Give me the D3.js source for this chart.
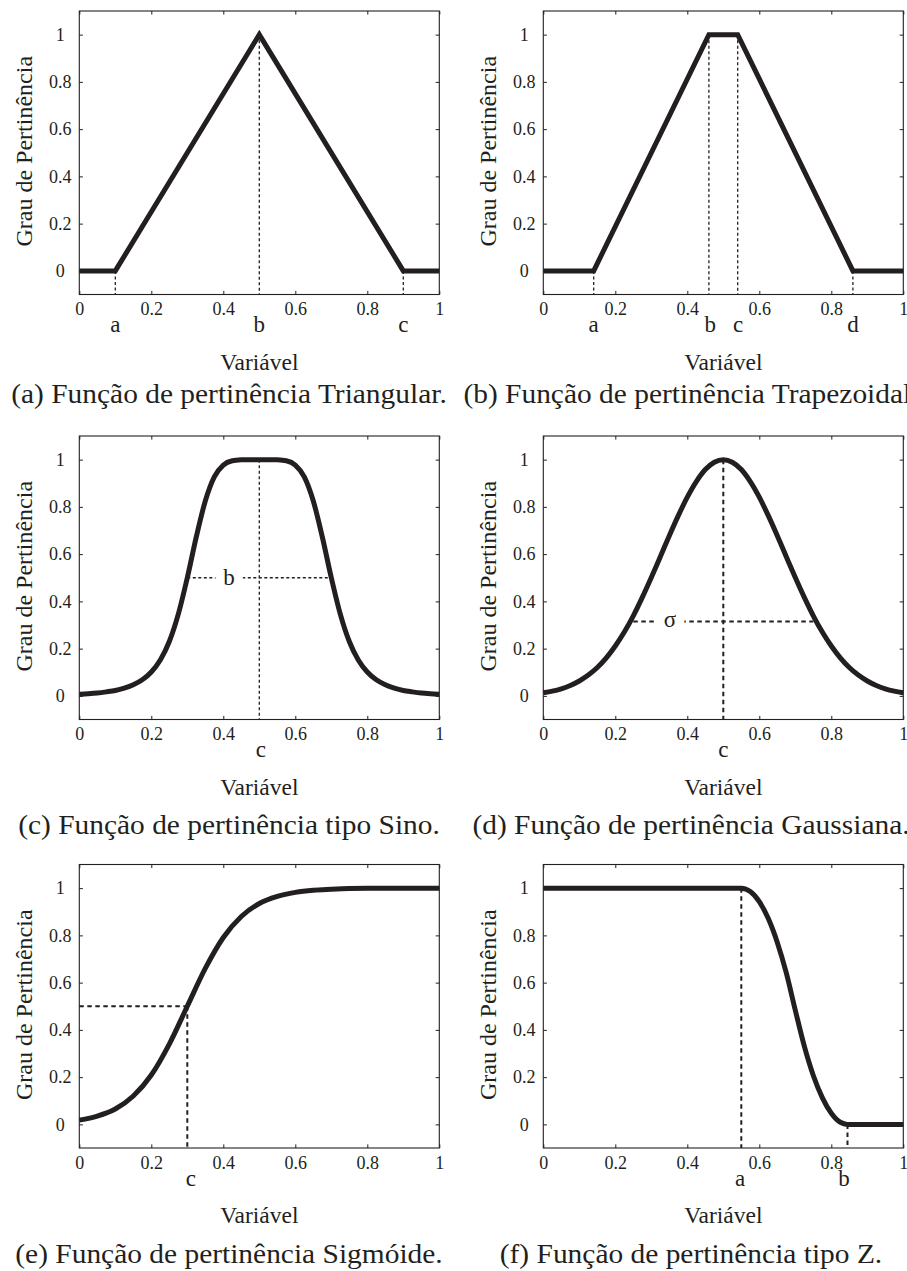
<!DOCTYPE html>
<html>
<head>
<meta charset="utf-8">
<script src="https://cdn.jsdelivr.net/npm/d3@7"></script>
<style>
  body { margin: 0; background: #fff; }
  svg { display: block; }
  text { font-family: "Liberation Serif", "Times New Roman", serif; fill: #231f20; }
</style>
</head>
<body>
<div id="chart"></div>
<script>
// axis ticks
var xTicks = [0, 0.2, 0.4, 0.6, 0.8, 1];
var yTicks = [0, 0.2, 0.4, 0.6, 0.8, 1];
var tickLabels = ["0", "0.2", "0.4", "0.6", "0.8", "1"];

// (a) triangular
var triX = [0, 0.1, 0.5, 0.9, 1];
var triY = [0, 0, 1, 0, 0];
// (b) trapezoidal
var trapX = [0, 0.14, 0.46, 0.54, 0.86, 1];
var trapY = [0, 0, 1, 1, 0, 0];
// (c) bell, read every 0.025
var fineX = [0, 0.025, 0.05, 0.075, 0.1, 0.125, 0.15, 0.175, 0.2, 0.225, 0.25, 0.275, 0.3, 0.325, 0.35, 0.375, 0.4, 0.425, 0.45, 0.475, 0.5,
             0.525, 0.55, 0.575, 0.6, 0.625, 0.65, 0.675, 0.7, 0.725, 0.75, 0.775, 0.8, 0.825, 0.85, 0.875, 0.9, 0.925, 0.95, 0.975, 1];
var bellY = [0.007, 0.009, 0.012, 0.017, 0.023, 0.033, 0.047, 0.068, 0.101, 0.152, 0.230, 0.346, 0.500, 0.673, 0.825, 0.927, 0.977, 0.995, 0.999, 1.000, 1.000,
             1.000, 0.999, 0.995, 0.977, 0.927, 0.825, 0.673, 0.500, 0.346, 0.230, 0.152, 0.101, 0.068, 0.047, 0.033, 0.023, 0.017, 0.012, 0.009, 0.007];
// (d) gaussian
var gaussY = [0.013, 0.020, 0.030, 0.044, 0.063, 0.088, 0.120, 0.161, 0.211, 0.270, 0.339, 0.417, 0.501, 0.589, 0.678, 0.763, 0.841, 0.907, 0.958, 0.989, 1.000,
              0.989, 0.958, 0.907, 0.841, 0.763, 0.678, 0.589, 0.501, 0.417, 0.339, 0.270, 0.211, 0.161, 0.120, 0.088, 0.063, 0.044, 0.030, 0.020, 0.013];
// (e) sigmoid
var sigX = [0, 0.05, 0.1, 0.15, 0.2, 0.25, 0.3, 0.35, 0.4, 0.45, 0.5, 0.55, 0.6, 0.65, 0.7, 0.75, 0.8, 0.85, 0.9, 0.95, 1];
var sigY = [0.018, 0.035, 0.065, 0.120, 0.209, 0.340, 0.500, 0.660, 0.791, 0.880, 0.935, 0.965, 0.982, 0.991, 0.995, 0.998, 0.999, 0.999, 1.000, 1.000, 1.000];
// (f) Z shape
var zX = [0, 0.55, 0.575, 0.6, 0.625, 0.65, 0.675, 0.7, 0.725, 0.75, 0.775, 0.8, 0.825, 0.845, 1];
var zY = [1, 1, 0.986, 0.943, 0.871, 0.770, 0.641, 0.483, 0.331, 0.207, 0.113, 0.047, 0.009, 0, 0];

// guide lines [x1, y1, x2, y2] in data units
var triGuides = [[0.1, 0, 0.1, -0.1], [0.5, 1, 0.5, -0.1], [0.9, 0, 0.9, -0.1]];
var trapGuides = [[0.14, 0, 0.14, -0.1], [0.46, 1, 0.46, -0.1], [0.54, 1, 0.54, -0.1], [0.86, 0, 0.86, -0.1]];
var bellGuides = [[0.5, 1, 0.5, -0.1], [0.3, 0.5, 0.7, 0.5]];
var gaussGuides = [[0.5, 1, 0.5, -0.1], [0.25, 0.315, 0.75, 0.315]];
var sigGuides = [[0, 0.5, 0.3, 0.5], [0.3, 0.5, 0.3, -0.1]];
var zGuides = [[0.55, 1, 0.55, -0.1], [0.845, 0, 0.845, -0.1]];

// parameter letters under the x axis
var triLetters = ["a", "b", "c"], triLetterX = [0.1, 0.5, 0.9];
var trapLetters = ["a", "b", "c", "d"], trapLetterX = [0.14, 0.464, 0.541, 0.86];
var bellLetters = ["c"], bellLetterX = [0.504];
var gaussLetters = ["c"], gaussLetterX = [0.5];
var sigLetters = ["c"], sigLetterX = [0.31];
var zLetters = ["a", "b"], zLetterX = [0.547, 0.835];

// letters inside the plot [text, x, y]
var bellInner = [["b", 0.416, 0.5]];
var gaussInner = [["σ", 0.352, 0.315]];

var captions = [
  "(a) Função de pertinência Triangular.",
  "(b) Função de pertinência Trapezoidal.",
  "(c) Função de pertinência tipo Sino.",
  "(d) Função de pertinência Gaussiana.",
  "(e) Função de pertinência Sigmóide.",
  "(f) Função de pertinência tipo Z."
];

function zip(xs, ys) { return xs.map(function (v, i) { return [v, ys[i]]; }); }

var panels = [
  { pts: zip(triX, triY), smooth: false, guides: triGuides, letters: triLetters, lx: triLetterX, inner: [], dash: "thin" },
  { pts: zip(trapX, trapY), smooth: false, guides: trapGuides, letters: trapLetters, lx: trapLetterX, inner: [], dash: "thin" },
  { pts: zip(fineX, bellY), smooth: true, guides: bellGuides, letters: bellLetters, lx: bellLetterX, inner: bellInner, dash: "thin" },
  { pts: zip(fineX, gaussY), smooth: true, guides: gaussGuides, letters: gaussLetters, lx: gaussLetterX, inner: gaussInner, dash: "thick" },
  { pts: zip(sigX, sigY), smooth: true, guides: sigGuides, letters: sigLetters, lx: sigLetterX, inner: [], dash: "thick" },
  { pts: zip(zX, zY), smooth: true, guides: zGuides, letters: zLetters, lx: zLetterX, inner: [], dash: "thick" }
];

var ink = "#231f20";
var W = 907, H = 1271;
var colX = [79.3, 543.3], rowY = [11, 436, 864.5];
var pw = 360, ph = 283.5;
var captionX = [229, 691], captionY = [403, 834, 1263];

var svg = d3.select("#chart").append("svg")
    .attr("width", W)
    .attr("height", H);

var x = d3.scaleLinear().domain([0, 1]).range([0, pw]);
var y = d3.scaleLinear().domain([-0.1, 1.1]).range([ph, 0]);

panels.forEach(function (p, i) {
    var col = i % 2, row = Math.floor(i / 2);
    var g = svg.append("g")
        .attr("transform", "translate(" + colX[col] + "," + rowY[row] + ")");

    // inward ticks on all four sides
    var fmt = function (d, k) { return tickLabels[k]; };
    g.append("g").attr("transform", "translate(0," + ph + ")")
        .call(d3.axisBottom(x).tickValues(xTicks).tickSizeInner(-3.6).tickSizeOuter(0).tickPadding(8).tickFormat(fmt));
    var left = g.append("g")
        .call(d3.axisLeft(y).tickValues(yTicks).tickSizeInner(-3.6).tickSizeOuter(0).tickFormat(fmt));
    g.append("g").call(d3.axisTop(x).tickValues(xTicks).tickSizeInner(-3.6).tickSizeOuter(0).tickFormat(""));
    g.append("g").attr("transform", "translate(" + pw + ",0)")
        .call(d3.axisRight(y).tickValues(yTicks).tickSizeInner(-3.6).tickSizeOuter(0).tickFormat(""));

    g.selectAll(".domain").remove();
    g.selectAll(".tick line").attr("stroke", ink).attr("stroke-width", 1);
    g.selectAll(".tick text")
        .attr("fill", ink)
        .style("font-family", '"Liberation Serif", serif')
        .style("font-size", "18px");
    left.selectAll(".tick text").attr("text-anchor", "middle").attr("x", -19);

    g.append("rect")
        .attr("width", pw).attr("height", ph)
        .attr("fill", "none").attr("stroke", ink).attr("stroke-width", 1.1);

    // dotted guides
    g.selectAll(".guide").data(p.guides).enter().append("line")
        .attr("class", "guide")
        .attr("x1", function (d) { return x(d[0]); })
        .attr("y1", function (d) { return y(d[1]); })
        .attr("x2", function (d) { return x(d[2]); })
        .attr("y2", function (d) { return y(d[3]); })
        .attr("stroke", ink)
        .attr("stroke-width", p.dash === "thin" ? 1.3 : 2)
        .attr("stroke-dasharray", p.dash === "thin" ? "3,2.5" : "4.5,3.5");

    // labels inside the plot, with a white halo that cuts the guide
    g.selectAll(".inner").data(p.inner).enter().append("text")
        .attr("class", "inner")
        .attr("x", function (d) { return x(d[1]); })
        .attr("y", function (d) { return y(d[2]); })
        .attr("dy", function (d) { return d[0] === "σ" ? 6 : 7; })
        .attr("text-anchor", "middle")
        .style("font-size", "23px")
        .style("paint-order", "stroke")
        .attr("stroke", "#fff")
        .attr("stroke-width", 18)
        .text(function (d) { return d[0]; });

    // the curve
    var line = d3.line()
        .x(function (d) { return x(d[0]); })
        .y(function (d) { return y(d[1]); })
        .curve(p.smooth ? d3.curveMonotoneX : d3.curveLinear);

    g.append("path")
        .attr("d", line(p.pts))
        .attr("fill", "none")
        .attr("stroke", ink)
        .attr("stroke-width", 5)
        .attr("stroke-linejoin", "miter");

    // parameter letters
    g.selectAll(".letter").data(p.letters).enter().append("text")
        .attr("class", "letter")
        .attr("x", function (d, k) { return x(p.lx[k]); })
        .attr("y", ph + 37.5)
        .attr("text-anchor", "middle")
        .style("font-size", "23px")
        .text(function (d) { return d; });

    // axis titles
    g.append("text")
        .attr("x", pw / 2)
        .attr("y", ph + 75)
        .attr("text-anchor", "middle")
        .style("font-size", "23.5px")
        .text("Variável");

    g.append("text")
        .attr("transform", "translate(-47.5," + (ph / 2 - 1.5) + ") rotate(-90)")
        .attr("text-anchor", "middle")
        .style("font-size", "24px")
        .text("Grau de Pertinência");

    // sub caption
    var cap = svg.append("text")
        .attr("x", captionX[col])
        .attr("y", captionY[row])
        .attr("text-anchor", "middle")
        .style("font-size", "27px")
        .text(captions[i]);
    var natural = cap.node().getComputedTextLength();
    cap.attr("textLength", natural * 1.09).attr("lengthAdjust", "spacingAndGlyphs");
});
</script>
</body>
</html>
